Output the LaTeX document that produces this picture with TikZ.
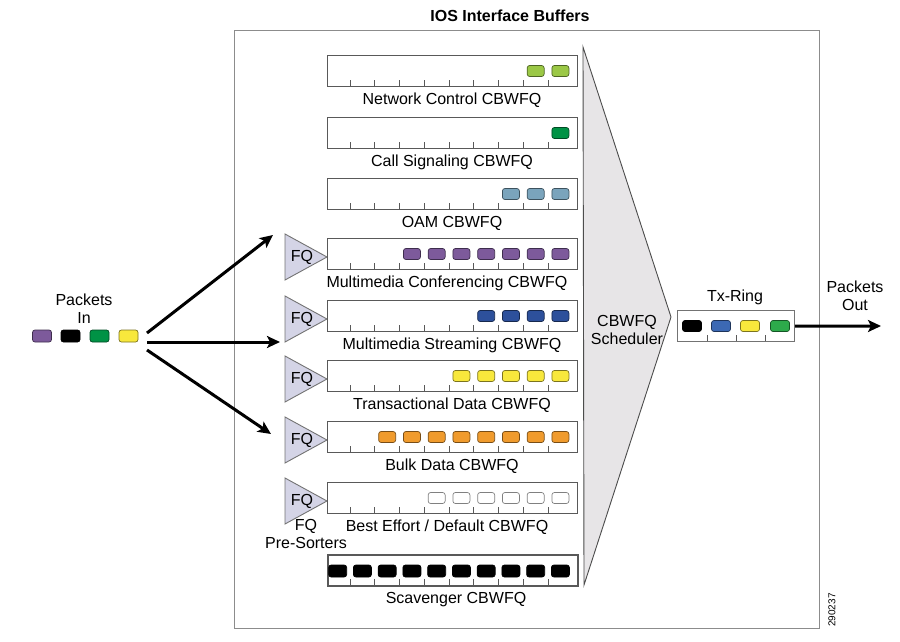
\documentclass[tikz,border=0pt]{standalone}
\usepackage{fontspec}
\setmainfont{Liberation Sans}
\usetikzlibrary{arrows.meta}
\definecolor{ncgreen}{RGB}{155,200,70}
\definecolor{csgreen}{RGB}{0,146,69}
\definecolor{oamblue}{RGB}{122,164,188}
\definecolor{mmpurple}{RGB}{125,90,155}
\definecolor{msblue}{RGB}{45,80,155}
\definecolor{tdyellow}{RGB}{248,232,60}
\definecolor{bdorange}{RGB}{240,155,45}
\definecolor{txblue}{RGB}{60,105,180}
\definecolor{txgreen}{RGB}{45,170,75}
\definecolor{fqfill}{RGB}{212,212,230}
\definecolor{schedfill}{RGB}{231,229,231}

\begin{document}
\begin{tikzpicture}[x=1pt, y=-1pt,
    every node/.style={font=\fontsize{16}{18}\selectfont},
    queue/.style={rectangle, draw=black!65, line width=1.1pt, minimum width=250pt, minimum height=31pt, inner sep=0pt, anchor=north west},
    pkt/.style={rectangle, rounded corners=2.5pt, line width=0.7pt, minimum width=17pt, minimum height=11pt, inner sep=0pt},
    tick/.style={draw=black!65, line width=0.7pt},
    fqtri/.style={draw=black!55, fill=fqfill, line width=0.9pt},
    fat/.style={line width=3pt, -{Stealth[length=13pt, width=12pt, inset=3pt]}}
  ]
    \useasboundingbox (0,0) rectangle (900,642);

    % outer frame and scheduler
    \node[draw=black!45, line width=1.2pt, minimum width=585pt, minimum height=598pt, inner sep=0pt, anchor=north west] (buffers) at (234,30) {};
    \node[font=\bfseries\fontsize{16}{18}\selectfont] (title) at (510,16) {IOS Interface Buffers};
    \draw[fill=schedfill, draw=black!70, line width=0.9pt] (583,47) -- (671,317) -- (584,585) -- cycle;
    \node[align=center] (sched) at (627,330) {CBWFQ\\Scheduler};

    % FQ pre-sorters
    \foreach \qy in {238,300,360,421,482}{
        \draw[fqtri] (285,\qy-4) -- (327,\qy+19) -- (285,\qy+42) -- cycle;
        \node (fq\qy) at (302,\qy+19) {FQ};
    }
    \node[align=center] (presort) at (306,534) {FQ\\Pre-Sorters};

    % CBWFQ queues
    \foreach \qy/\qn/\qk/\qc in {55/nc/2/ncgreen, 117/cs/1/csgreen, 178/oam/3/oamblue, 238/mmc/7/mmpurple, 300/mms/4/msblue, 360/td/5/tdyellow, 421/bd/8/bdorange, 482/be/6/white}{
        \node[queue] (\qn) at (327,\qy) {};
        \foreach \j in {1,...,9} \draw[tick] (325.25+24.75*\j, \qy+31) -- ++(0,-6);
        \foreach \j in {1,...,\qk} \node[pkt, fill=\qc, draw=\qc!50!black] (\qn-p\j) at (585.15-24.75*\j, \qy+16) {};
    }
    \node[queue, line width=2pt] (scv) at (327,554) {};
    \foreach \j in {1,...,9} \draw[tick] (325.25+24.75*\j, 585) -- ++(0,-6);
    \foreach \j in {1,...,10} \node[pkt, fill=black, draw=black, minimum width=18pt, minimum height=12pt] (scv-p\j) at (585.15-24.75*\j, 571) {};

    \node (nc-l)  at (452,100) {Network Control CBWFQ};
    \node (cs-l)  at (452,162) {Call Signaling CBWFQ};
    \node (oam-l) at (452,223) {OAM CBWFQ};
    \node (mmc-l) at (447,283) {Multimedia Conferencing CBWFQ};
    \node (mms-l) at (452,345) {Multimedia Streaming CBWFQ};
    \node (td-l)  at (452,405) {Transactional Data CBWFQ};
    \node (bd-l)  at (452,466) {Bulk Data CBWFQ};
    \node (be-l)  at (447,527) {Best Effort / Default CBWFQ};
    \node (scv-l) at (456,600) {Scavenger CBWFQ};

    % packets in
    \node[align=center] (inlabel) at (84,309) {Packets\\In};
    \node[pkt, fill=mmpurple, draw=mmpurple!50!black, minimum width=19pt, minimum height=12pt] (in1) at (42,336) {};
    \node[pkt, fill=black, draw=black, minimum width=19pt, minimum height=12pt] (in2) at (70.5,336) {};
    \node[pkt, fill=csgreen, draw=csgreen!50!black, minimum width=19pt, minimum height=12pt] (in3) at (99.5,336) {};
    \node[pkt, fill=tdyellow, draw=tdyellow!50!black, minimum width=19pt, minimum height=12pt] (in4) at (128.5,336) {};
    \coordinate (fan1) at (147,333);
    \coordinate (fan2) at (147,342);
    \coordinate (fan3) at (147,350);
    \coordinate (to1) at (273,235);
    \coordinate (to2) at (280,342);
    \coordinate (to3) at (271,434);
    \draw[fat] (fan1) -- (to1);
    \draw[fat] (fan2) -- (to2);
    \draw[fat] (fan3) -- (to3);

    % tx-ring
    \node[queue, draw=black!55, minimum width=117pt] (txring) at (677,310) {};
    \node (txlabel) at (735,297) {Tx-Ring};
    \foreach \x in {707,736,765} \draw[tick] (\x,341) -- ++(0,-6);
    \node[pkt, fill=black, draw=black, minimum width=19pt] (tx1) at (692,326) {};
    \node[pkt, fill=txblue, draw=txblue!50!black, minimum width=19pt] (tx2) at (721,326) {};
    \node[pkt, fill=tdyellow, draw=tdyellow!50!black, minimum width=19pt] (tx3) at (750,326) {};
    \node[pkt, fill=txgreen, draw=txgreen!50!black, minimum width=19pt] (tx4) at (780,326) {};
    \coordinate (pout) at (881,326);
    \draw[fat] (txring.east) -- (pout);
    \node[align=center] (outlabel) at (855,296) {Packets\\Out};

    \node[font=\fontsize{10}{12}\selectfont, rotate=90] (figno) at (832,610) {290237};
\end{tikzpicture}
\end{document}
